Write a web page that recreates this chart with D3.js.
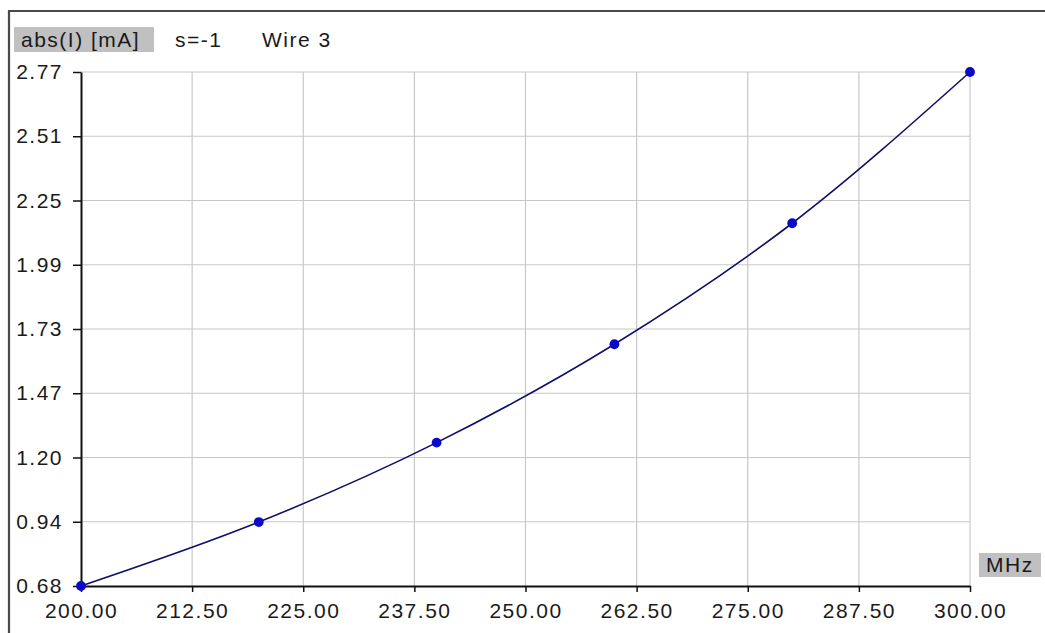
<!DOCTYPE html>
<html>
<head>
<meta charset="utf-8">
<script src="https://cdn.jsdelivr.net/npm/d3@7/dist/d3.min.js"></script>
<style>
  html, body { margin: 0; padding: 0; background: #fff; }
  svg { display: block; }
  text { font-family: "Liberation Sans", Arial, sans-serif; fill: #1a1a1a; letter-spacing: 1.5px; }
</style>
</head>
<body>
<svg id="chart" width="1045" height="633"></svg>
<script>
// Current magnitude on wire 3 versus frequency
const freqMHz = [200, 220, 240, 260, 280, 300];
const currentMA = [0.68, 0.94, 1.263, 1.663, 2.155, 2.77];

// Axis tick labels
const xTickValues = [200, 212.5, 225, 237.5, 250, 262.5, 275, 287.5, 300];
const yTickLabels = ["0.68", "0.94", "1.20", "1.47", "1.73", "1.99", "2.25", "2.51", "2.77"];

const yMin = 0.68, yMax = 2.77;
const yTickValues = yTickLabels.map((_, i) => yMin + i * (yMax - yMin) / (yTickLabels.length - 1));

const svg = d3.select("#chart");
const W = 1045, H = 633;
const plot = { left: 81, right: 970, top: 72, bottom: 586 };
const fontSize = 21;

const x = d3.scaleLinear().domain([200, 300]).range([plot.left, plot.right]);
const y = d3.scaleLinear().domain([yMin, yMax]).range([plot.bottom, plot.top]);

// Outer panel frame (open to the right and bottom)
svg.append("path")
  .attr("d", `M9,${H} V11 H${W}`)
  .attr("fill", "none")
  .attr("stroke", "#4a4a4a")
  .attr("stroke-width", 2.2);

// Grid
const grid = svg.append("g").attr("stroke", "#c8c8c8").attr("stroke-width", 1.2);
grid.selectAll("line.v").data(xTickValues.slice(1)).join("line")
  .attr("x1", d => x(d)).attr("x2", d => x(d))
  .attr("y1", plot.top).attr("y2", plot.bottom);
grid.selectAll("line.h").data(yTickValues.slice(1)).join("line")
  .attr("x1", plot.left).attr("x2", plot.right)
  .attr("y1", d => y(d)).attr("y2", d => y(d));

// Axes
const xAxis = d3.axisBottom(x)
  .tickValues(xTickValues)
  .tickFormat(d3.format(".2f"))
  .tickSize(6)
  .tickPadding(11)
  .tickSizeOuter(0);
const gx = svg.append("g")
  .attr("transform", `translate(0,${plot.bottom})`)
  .call(xAxis);
gx.select(".domain").attr("stroke", "#111").attr("stroke-width", 2);
gx.selectAll(".tick line").attr("stroke", "#111").attr("stroke-width", 1.5);
gx.selectAll(".tick text")
  .attr("font-size", fontSize)
  .attr("font-family", null)
  .attr("fill", "#1a1a1a");

const yAxis = d3.axisLeft(y)
  .tickValues(yTickValues)
  .tickFormat((d, i) => yTickLabels[i])
  .tickSize(8)
  .tickPadding(10)
  .tickSizeOuter(0);
const gy = svg.append("g")
  .attr("transform", `translate(${plot.left},0)`)
  .call(yAxis);
gy.select(".domain").attr("stroke", "#111").attr("stroke-width", 2);
gy.selectAll(".tick line").attr("stroke", "#111").attr("stroke-width", 1.5);
gy.selectAll(".tick text")
  .attr("font-size", fontSize)
  .attr("font-family", null)
  .attr("fill", "#1a1a1a");

// Curve
const pts = freqMHz.map((f, i) => [f, currentMA[i]]);
svg.append("path")
  .datum(pts)
  .attr("fill", "none")
  .attr("stroke", "#10106a")
  .attr("stroke-width", 1.6)
  .attr("d", d3.line().x(d => x(d[0])).y(d => y(d[1])).curve(d3.curveMonotoneX));

svg.append("g").selectAll("circle").data(pts).join("circle")
  .attr("cx", d => x(d[0]))
  .attr("cy", d => y(d[1]))
  .attr("r", 4.9)
  .attr("fill", "#0a0ac8");

// Header labels
svg.append("rect").attr("x", 14).attr("y", 27).attr("width", 140).attr("height", 25).attr("fill", "#c0c0c0");
svg.append("text").attr("x", 21).attr("y", 47).attr("font-size", fontSize).text("abs(I) [mA]");
svg.append("text").attr("x", 175).attr("y", 47).attr("font-size", fontSize).text("s=-1");
svg.append("text").attr("x", 262).attr("y", 47).attr("font-size", fontSize).text("Wire 3");

// Unit label for the frequency axis
svg.append("rect").attr("x", 979).attr("y", 553).attr("width", 62).attr("height", 24).attr("fill", "#c0c0c0");
svg.append("text").attr("x", 986).attr("y", 572).attr("font-size", fontSize).text("MHz");
</script>
</body>
</html>
